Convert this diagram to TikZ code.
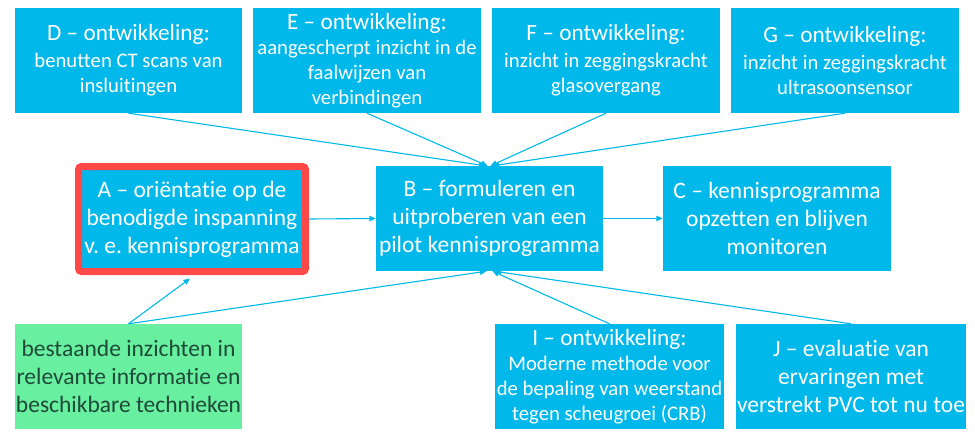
\documentclass[tikz,border=0pt]{standalone}
\usepackage{fontspec}
\setmainfont[Ligatures=NoCommon]{Carlito}
\usetikzlibrary{arrows.meta,calc}
\definecolor{boxblue}{HTML}{00B8EA}
\definecolor{boxgreen}{HTML}{68EFA0}
\definecolor{boxred}{HTML}{FF4848}
\definecolor{greentext}{HTML}{1E4A38}
\newcommand{\hdf}{\fontsize{23.3}{25}\selectfont}
\newcommand{\sbf}{\fontsize{20.7}{25}\selectfont}
\newcommand{\bgf}{\fontsize{23.5}{28}\selectfont}
\tikzset{
  bluebox/.style={fill=boxblue, text=white, minimum width=#1, minimum height=105pt, inner sep=0pt, align=center, font=\bgf},
  bluebox/.default=228pt,
  devbox/.style={bluebox=#1, font=\sbf},
  devbox/.default=228pt,
  greenbox/.style={fill=boxgreen, text=greentext, minimum width=227pt, minimum height=105pt, inner sep=0pt, align=center, font=\bgf},
  redframe/.style={draw=boxred, line width=7pt, rounded corners=3pt},
  conn/.style={draw=boxblue, line width=1.1pt, -{Triangle[length=6.5pt,width=5.5pt]}},
}
\begin{document}
\begin{tikzpicture}[x=1pt,y=-1pt]
\useasboundingbox (0,0) rectangle (975,442);
% top row
\node[devbox=227pt] (D) at (128.5,60.5) {\hdf D – ontwikkeling:\\[2pt]\sbf benutten CT scans van\\\sbf insluitingen};
\node[devbox] (E) at (367,60.5) {\hdf E – ontwikkeling:\\\sbf aangescherpt inzicht in de\\\sbf faalwijzen van\\\sbf verbindingen};
\node[devbox] (F) at (606,60.5) {\hdf F – ontwikkeling:\\[2pt]\sbf inzicht in zeggingskracht\\\sbf glasovergang};
\node[devbox] (G) at (845,60.5) {\hdf G – ontwikkeling:\\[2pt]\sbf inzicht in zeggingskracht\\\sbf ultrasoonsensor};
% middle row
\node[bluebox=227pt, redframe] (A) at (192,219) {A – oriëntatie op de\\benodigde inspanning\\v.\ e.\ kennisprogramma};
\node[bluebox=227pt] (B) at (489.5,218.5) {B – formuleren en\\uitproberen van een\\pilot kennisprogramma};
\node[bluebox] (C) at (777,218.5) {C – kennisprogramma\\opzetten en blijven\\monitoren};
% bottom row
\node[greenbox] (K) at (128.5,376.5) {bestaande inzichten in\\relevante informatie en\\beschikbare technieken};
\node[devbox=229pt] (I) at (609.5,376.5) {\hdf I – ontwikkeling:\\\sbf Moderne methode voor\\\sbf de bepaling van weerstand\\\sbf tegen scheugroei (CRB)};
\node[bluebox=230pt] (J) at (851,376.5) {J – evaluatie van\\ervaringen met\\verstrekt PVC tot nu toe};
% connectors
\draw[conn] (A.east) -- (B.west);
\draw[conn] (B.east) -- (C.west);
\draw[conn] (D.south) -- ($(B.north)+(-4,0)$);
\draw[conn] (E.south) -- ($(B.north)+(-2,0)$);
\draw[conn] (F.south) -- ($(B.north)+(1,0)$);
\draw[conn] (G.south) -- ($(B.north)+(3,0)$);
\draw[conn] (K.north) -- ($(A.south)+(-2,3.5)$);
\draw[conn] (K.north) -- ($(B.south)+(-3,0)$);
\draw[conn] (I.north) -- ($(B.south)+(3,0)$);
\draw[conn] (J.north) -- ($(B.south)+(5,0)$);
\end{tikzpicture}
\end{document}
